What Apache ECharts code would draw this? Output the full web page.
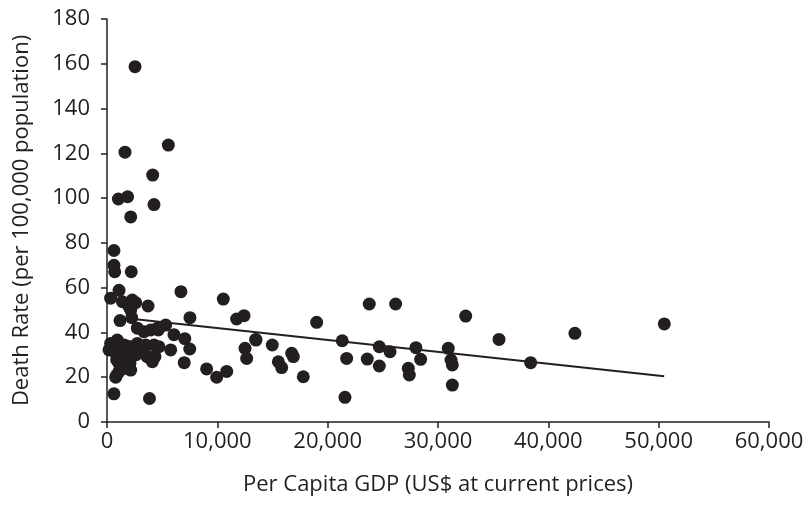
<!DOCTYPE html>
<html>
<head>
<meta charset="utf-8">
<script src="https://cdn.jsdelivr.net/npm/echarts@6/dist/echarts.min.js"></script>
<style>html,body{margin:0;padding:0;background:#fff}#c{width:808px;height:521px}</style>
</head>
<body>
<div id="c"></div>
<script>
// Per capita GDP (US$) values
const gdp = [
  2540,5560,1630,4140,1030,1870,4260,2150,
  630,630,700,2200,
  1090,330,6700,
  1400,2290,2600,2000,3720,10540,2150,
  2240,7520,1180,11750,12420,
  2750,3350,3960,4560,5320,4650,
  6070,7050,
  330,930,1540,2150,2750,3510,4260,4710,570,1780,
  180,790,1390,1990,2600,3200,3650,1500,1200,
  5770,7500,12510,13480,12660,
  3600,4050,4350,4110,
  880,1480,2080,1090,1690,2150,
  7000,9030,9940,10850,
  880,1090,790,
  630,3850,
  19000,23770,26160,13500,14980,15530,15830,16740,16890,17790,21320,21720,21570,23590,24680,24680,25650,27310,27400,28000,28430,
  32510,30930,31180,31300,31300,35530,38400,42410,50510
];
// Death rate (per 100,000 population) values
const deathRate = [
  158.7,123.7,120.5,110.3,99.6,100.6,97.1,91.6,
  76.6,70.0,67.1,67.1,
  58.8,55.3,58.2,
  53.7,54.5,53.3,51.5,51.8,54.9,50.0,
  46.6,46.6,45.3,46.0,47.5,
  41.9,40.3,41.1,41.9,43.3,41.1,
  39.0,37.2,
  35.1,36.6,34.4,33.6,35.1,34.4,34.4,33.6,35.1,34.0,
  32.2,30.7,30.0,29.2,30.0,31.0,29.2,31.4,30.7,
  32.2,32.6,32.9,36.9,28.4,
  29.5,27.7,29.2,26.9,
  27.7,26.2,26.2,26.2,24.0,23.2,
  26.5,23.7,20.0,22.6,
  21.0,22.5,20.0,
  12.6,10.5,
  44.5,52.7,52.7,36.6,34.4,26.9,24.3,30.7,29.2,20.2,36.3,28.4,11.0,28.1,33.6,25.0,31.4,24.0,21.0,33.2,28.0,
  47.3,32.9,27.7,25.5,16.5,36.9,26.5,39.6,43.8
];
// Trend line end points
const trendX = [2600, 50500];
const trendY = [45.9, 20.4];
const xTicks = [0,10000,20000,30000,40000,50000,60000];
const yTicks = [0,20,40,60,80,100,120,140,160,180];

const points = gdp.map((g,i)=>[g, deathRate[i]]);
const trend = trendX.map((x,i)=>[x, trendY[i]]);
const font = '"Open Sans", sans-serif';
const ink = '#231f20';

const chart = echarts.init(document.getElementById('c'));
chart.setOption({
  animation:false,
  backgroundColor:'#fff',
  grid:{left:107,right:39,top:19,bottom:99,containLabel:false},
  xAxis:{
    type:'value',min:xTicks[0],max:xTicks[xTicks.length-1],interval:10000,
    name:'Per Capita GDP (US$ at current prices)',nameLocation:'middle',nameGap:52,
    nameTextStyle:{fontFamily:font,fontSize:22,color:ink},
    axisLine:{show:true,lineStyle:{color:ink,width:1.5}},
    axisTick:{show:true,inside:false,length:6,lineStyle:{color:ink,width:1.5}},
    axisLabel:{margin:9,fontFamily:font,fontSize:22,color:ink,
      formatter:v=>v.toLocaleString('en-US')},
    splitLine:{show:false}
  },
  yAxis:{
    type:'value',min:yTicks[0],max:yTicks[yTicks.length-1],interval:20,
    name:'Death Rate (per 100,000 population)',nameLocation:'middle',nameGap:74,
    nameTextStyle:{fontFamily:font,fontSize:22,color:ink},
    axisLine:{show:true,lineStyle:{color:ink,width:1.5}},
    axisTick:{show:true,inside:false,length:6,lineStyle:{color:ink,width:1.5}},
    axisLabel:{margin:17,fontFamily:font,fontSize:22,color:ink},
    splitLine:{show:false}
  },
  series:[
    {type:'scatter',data:points,symbolSize:13,itemStyle:{color:ink,opacity:1},z:2},
    {type:'line',data:trend,showSymbol:false,symbol:'none',lineStyle:{color:ink,width:2},z:3}
  ]
});
</script>
</body>
</html>
